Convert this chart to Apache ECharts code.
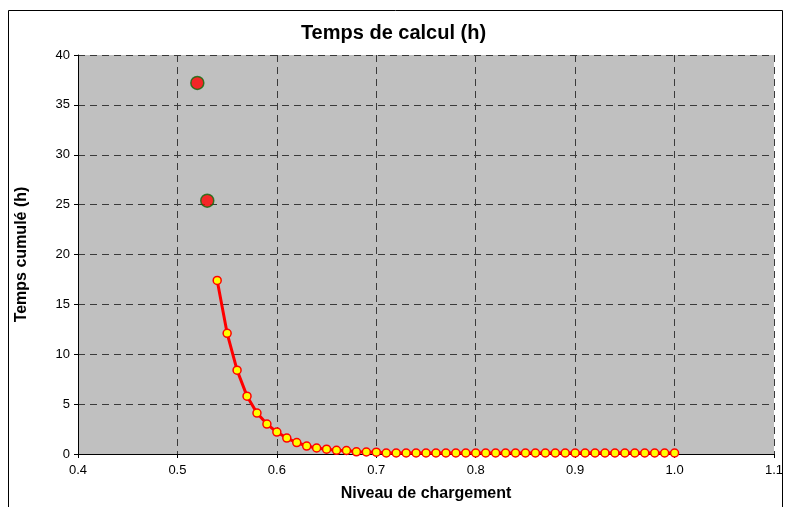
<!DOCTYPE html>
<html>
<head>
<meta charset="utf-8">
<title>Temps de calcul</title>
<script src="https://cdn.jsdelivr.net/npm/echarts@6/dist/echarts.min.js"></script>
<style>
  html, body { margin: 0; padding: 0; background: #fff; }
</style>
</head>
<body>
<div id="main" style="width: 787px; height: 507px;"></div>
<script type="text/javascript">
// isolated points (big red dots)
var isoX = [0.52, 0.53];
var isoY = [37.2, 25.4];

// curve: niveau de chargement -> temps cumulé (h)
var curveX = [0.54, 0.55, 0.56, 0.57, 0.58, 0.59, 0.60, 0.61, 0.62, 0.63,
              0.64, 0.65, 0.66, 0.67, 0.68, 0.69, 0.70, 0.71, 0.72, 0.73,
              0.74, 0.75, 0.76, 0.77, 0.78, 0.79, 0.80, 0.81, 0.82, 0.83,
              0.84, 0.85, 0.86, 0.87, 0.88, 0.89, 0.90, 0.91, 0.92, 0.93,
              0.94, 0.95, 0.96, 0.97, 0.98, 0.99, 1.00];
var curveY = [17.4, 12.1, 8.4, 5.8, 4.1, 3.0, 2.2, 1.6, 1.15, 0.8,
              0.6, 0.48, 0.37, 0.35, 0.22, 0.2, 0.18, 0.1, 0.1, 0.1,
              0.1, 0.1, 0.1, 0.1, 0.1, 0.1, 0.1, 0.1, 0.1, 0.1,
              0.1, 0.1, 0.1, 0.1, 0.1, 0.1, 0.1, 0.1, 0.1, 0.1,
              0.1, 0.1, 0.1, 0.1, 0.1, 0.1, 0.1];

function pairs(xs, ys) {
  var out = [];
  for (var i = 0; i < xs.length; i++) out.push([xs[i], ys[i]]);
  return out;
}

var myChart = echarts.init(document.getElementById('main'));
var font = 'Liberation Sans, Arial, sans-serif';
var gridDash = { color: '#3a3a3a', type: [7, 5], width: 1 };

var option = {
  animation: false,
  backgroundColor: '#fff',
  textStyle: { fontFamily: font },
  title: {
    text: 'Temps de calcul (h)',
    left: 'center',
    top: 18,
    textStyle: { fontFamily: font, fontSize: 20, fontWeight: 'bold', color: '#000' }
  },
  graphic: [{
    type: 'rect',
    shape: { x: 8.5, y: 10.5, width: 774, height: 520 },
    style: { fill: 'none', stroke: '#000', lineWidth: 1 },
    silent: true,
    z: -1
  }],
  grid: {
    left: 78, right: 13, top: 55, bottom: 52,
    show: true,
    backgroundColor: '#c0c0c0',
    borderWidth: 0
  },
  xAxis: {
    type: 'value',
    min: 0.4, max: 1.1, interval: 0.1,
    name: 'Niveau de chargement',
    nameLocation: 'middle',
    nameGap: 32,
    nameTextStyle: { fontFamily: font, fontSize: 16, fontWeight: 'bold', color: '#000' },
    axisLine: { show: true, lineStyle: { color: '#000', width: 1 } },
    axisTick: { show: true, length: 4, lineStyle: { color: '#000' } },
    axisLabel: {
      fontFamily: font, fontSize: 13, color: '#000', margin: 10,
      formatter: function (v) { return v.toFixed(1); }
    },
    splitLine: { show: true, lineStyle: gridDash }
  },
  yAxis: {
    type: 'value',
    min: 0, max: 40, interval: 5,
    name: 'Temps cumulé (h)',
    nameLocation: 'middle',
    nameGap: 48,
    nameTextStyle: { fontFamily: font, fontSize: 16, fontWeight: 'bold', color: '#000' },
    axisLine: { show: true, lineStyle: { color: '#000', width: 1 } },
    axisTick: { show: true, length: 4, lineStyle: { color: '#000' } },
    axisLabel: { fontFamily: font, fontSize: 13, color: '#000', margin: 8 },
    splitLine: { show: true, lineStyle: gridDash }
  },
  series: [{
    name: 'isolés',
    type: 'scatter',
    data: pairs(isoX, isoY),
    symbol: 'circle',
    symbolSize: 13,
    itemStyle: { color: '#ff0000', borderColor: '#0d6e0d', borderWidth: 1.5 },
    z: 3
  }, {
    name: 'courbe',
    type: 'line',
    data: pairs(curveX, curveY),
    symbol: 'circle',
    symbolSize: 8,
    showSymbol: true,
    lineStyle: { color: '#ff0000', width: 3 },
    itemStyle: { color: '#ffff00', borderColor: '#ff0000', borderWidth: 1.5 },
    z: 3
  }]
};

myChart.setOption(option);
</script>
</body>
</html>
